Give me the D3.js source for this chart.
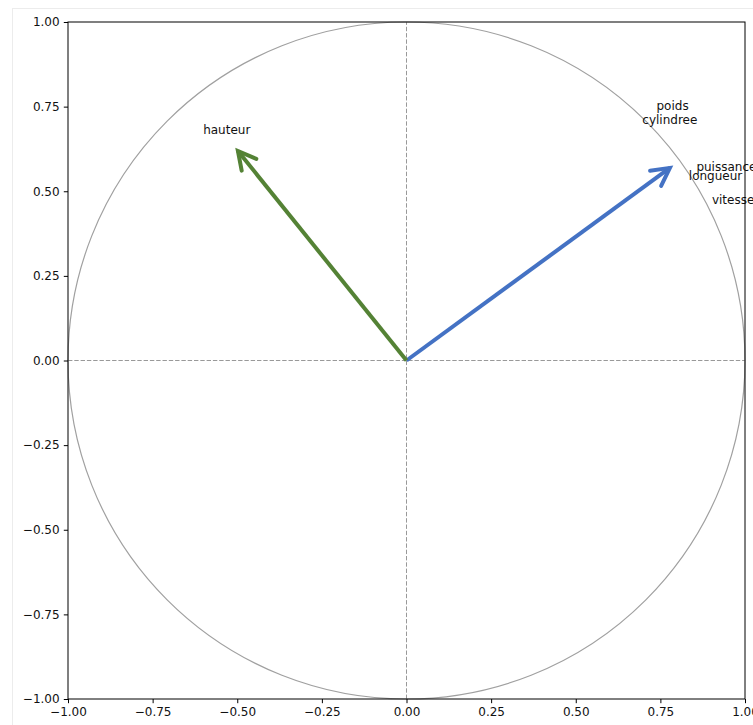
<!DOCTYPE html>
<html>
<head>
<meta charset="utf-8">
<script src="https://cdn.jsdelivr.net/npm/d3@7"></script>
<style>
  html, body { margin: 0; padding: 0; background: #fff; overflow: hidden; }
  svg { display: block; font-family: "DejaVu Sans", sans-serif; }
</style>
</head>
<body>
<svg id="chart" width="753" height="725"></svg>
<script>
// ticks for both axes
const tickValues = [-1, -0.75, -0.5, -0.25, 0, 0.25, 0.5, 0.75, 1];

// arrows (end points in circle coordinates)
const arrowNames = ["groupe1", "groupe2"];
const arrowX = [0.778, -0.498];
const arrowY = [0.569, 0.619];
const arrowColors = ["#4472c4", "#548235"];

// variable labels (centre positions)
const varNames = ["poids", "cylindree", "puissance", "longueur", "vitesse", "hauteur"];
const varX = [0.786, 0.778, 0.945, 0.913, 0.965, -0.531];
const varY = [0.752, 0.710, 0.573, 0.547, 0.476, 0.681];

const svg = d3.select("#chart");
const plotLeft = 68, plotRight = 745, plotTop = 22, plotBottom = 699;

// light frame of the notebook output cell
svg.append("rect")
  .attr("x", 12.5).attr("y", 8.5)
  .attr("width", 800).attr("height", 800)
  .attr("fill", "none").attr("stroke", "#ececec");

const x = d3.scaleLinear().domain([-1, 1]).range([plotLeft, plotRight]);
const y = d3.scaleLinear().domain([-1, 1]).range([plotBottom, plotTop]);

const g = svg.append("g");

// unit circle
g.append("circle")
  .attr("cx", x(0)).attr("cy", y(0))
  .attr("r", x(1) - x(0))
  .attr("fill", "none")
  .attr("stroke", "#a0a0a0")
  .attr("stroke-width", 1.2);

// dashed axes through the origin
g.append("line")
  .attr("x1", x(-1)).attr("x2", x(1))
  .attr("y1", y(0)).attr("y2", y(0))
  .attr("stroke", "#999").attr("stroke-width", 1)
  .attr("stroke-dasharray", "4.4,1.9");
g.append("line")
  .attr("x1", x(0)).attr("x2", x(0))
  .attr("y1", y(-1)).attr("y2", y(1))
  .attr("stroke", "#999").attr("stroke-width", 1)
  .attr("stroke-dasharray", "4.4,1.9");

// arrows with open heads
const headLen = 20, headAng = 28 * Math.PI / 180;
arrowNames.forEach((name, i) => {
  const x0 = x(0), y0 = y(0), x1 = x(arrowX[i]), y1 = y(arrowY[i]);
  const a = Math.atan2(y0 - y1, x0 - x1);
  const w1 = [x1 + headLen * Math.cos(a + headAng), y1 + headLen * Math.sin(a + headAng)];
  const w2 = [x1 + headLen * Math.cos(a - headAng), y1 + headLen * Math.sin(a - headAng)];
  g.append("line")
    .attr("x1", x0).attr("y1", y0).attr("x2", x1).attr("y2", y1)
    .attr("stroke", arrowColors[i]).attr("stroke-width", 4);
  g.append("path")
    .attr("d", d3.line()([w1, [x1, y1], w2]))
    .attr("fill", "none")
    .attr("stroke", arrowColors[i]).attr("stroke-width", 4)
    .attr("stroke-linejoin", "miter").attr("stroke-linecap", "round");
});

// variable labels
g.selectAll("text.var")
  .data(varNames)
  .join("text")
  .attr("class", "var")
  .attr("x", (d, i) => x(varX[i]))
  .attr("y", (d, i) => y(varY[i]))
  .attr("dy", "0.35em")
  .attr("text-anchor", "middle")
  .attr("font-size", "12px")
  .attr("fill", "#111")
  .text(d => d);

// axes
const fmt = d3.format(".2f");
const minus = d => fmt(d).replace("-", "\u2212");

const xAxis = svg.append("g")
  .attr("transform", `translate(0,${plotBottom})`)
  .call(d3.axisBottom(x).tickValues(tickValues).tickFormat(minus).tickSizeOuter(0).tickSize(4.2).tickPadding(4.2));
const yAxis = svg.append("g")
  .attr("transform", `translate(${plotLeft},0)`)
  .call(d3.axisLeft(y).tickValues(tickValues).tickFormat(minus).tickSizeOuter(0).tickSize(4.2).tickPadding(4.2));

[xAxis, yAxis].forEach(ax => {
  ax.select(".domain").remove();
  ax.selectAll("line").attr("stroke", "#000").attr("stroke-width", 1);
  ax.selectAll("text").attr("font-size", "12px").attr("fill", "#111")
    .attr("font-family", "DejaVu Sans, sans-serif");
});

// spines
svg.append("rect")
  .attr("x", plotLeft).attr("y", plotTop)
  .attr("width", plotRight - plotLeft).attr("height", plotBottom - plotTop)
  .attr("fill", "none").attr("stroke", "#000").attr("stroke-width", 1);
</script>
</body>
</html>
